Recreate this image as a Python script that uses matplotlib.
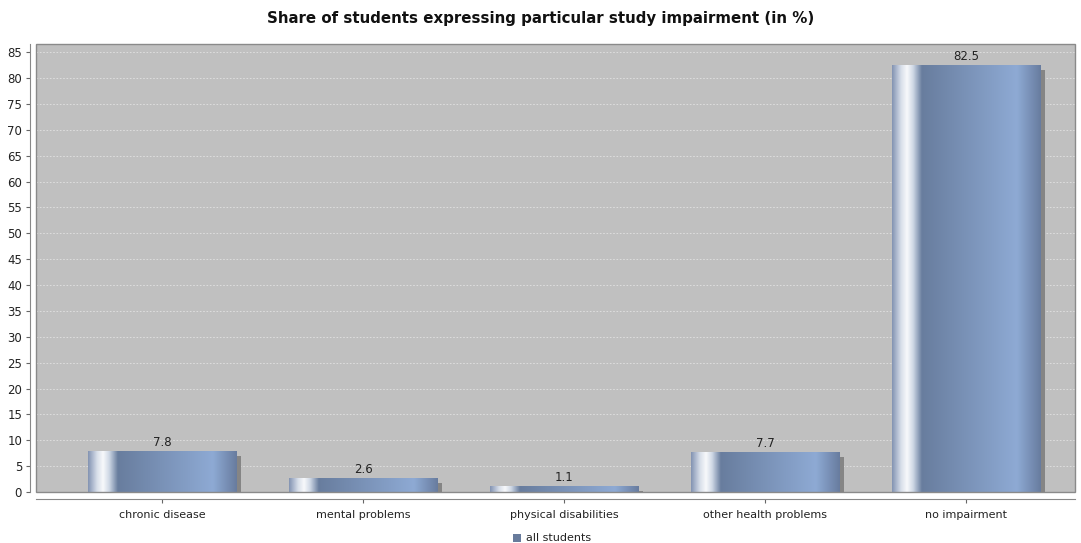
import numpy as np
import matplotlib
matplotlib.use("Agg")
import matplotlib.pyplot as plt
from matplotlib.colors import LinearSegmentedColormap
from matplotlib.patches import Rectangle
import matplotlib.transforms as mtransforms

# data
categories = ["chronic disease", "mental problems", "physical disabilities",
              "other health problems", "no impairment"]
shares = [7.8, 2.6, 1.1, 7.7, 82.5]
series_name = "all students"

plt.rcParams["font.family"] = ["DejaVu Sans"]

fig = plt.figure(figsize=(10.81, 5.43), dpi=100)
ax = fig.add_axes([36 / 1081, 51 / 543, (1075 - 36) / 1081, 448 / 543])
ax.set_facecolor("#c0c0c0")

x = np.arange(len(categories))
bar_w = 0.74

# horizontal gradient like the java renderer
bar_cmap = LinearSegmentedColormap.from_list("bar", [
    (0.0, "#8494b3"), (0.06, "#d8dfea"), (0.1, "#f8f9fb"), (0.14, "#d0d9e6"),
    (0.2, "#687d9e"), (0.84, "#8eaad4"), (1.0, "#687c9f")])
grad = np.linspace(0, 1, 256).reshape(1, -1)

# shadows
shadow_off = mtransforms.offset_copy(ax.transData, fig=fig, x=4.5, y=-4.5, units="dots")
ax.bar(x, shares, width=bar_w, color="#858585", transform=shadow_off, zorder=2,
       clip_on=True)
ax.add_patch(Rectangle((-1, -5), 7, 5, facecolor="#c0c0c0", edgecolor="none", zorder=2.5))

bars = ax.bar(x, shares, width=bar_w, color="none", edgecolor="none", zorder=3)
for b, v in zip(bars, shares):
    x0, y0 = b.get_x(), b.get_y()
    ax.imshow(grad, cmap=bar_cmap, aspect="auto", zorder=3,
              extent=(x0, x0 + b.get_width(), y0, y0 + b.get_height()))
    ax.text(b.get_x() + b.get_width() / 2, v + 0.5, f"{v}", ha="center",
            va="bottom", fontsize=8.5, color="#222222", zorder=4)

ax.set_xlim(-0.629, 4.54)
ax.set_ylim(0, 86.6)
ax.set_yticks(np.arange(0, 90, 5))
ax.set_xticks(x)
ax.set_xticklabels(categories)
ax.tick_params(axis="both", labelsize=8.5, colors="#222222", length=3,
               width=0.8, pad=3)
ax.tick_params(axis="x", labelsize=8, pad=5)
ax.tick_params(axis="both", color="#666666")

ax.yaxis.grid(True, color="#e2e2e2", linestyle=(0, (2, 2)), linewidth=0.6)
ax.set_axisbelow(True)

for s in ["top", "right"]:
    ax.spines[s].set_visible(False)
ax.spines["left"].set_position(("outward", 4))
ax.spines["bottom"].set_position(("outward", 5))
ax.spines["left"].set_color("#888888")
ax.spines["bottom"].set_color("#888888")
ax.add_patch(Rectangle((0, 0), 1, 1, transform=ax.transAxes, fill=False,
                       edgecolor="#8a8a8a", linewidth=1.0, zorder=5, clip_on=False))

fig.text(0.5, 1 - 18 / 543, "Share of students expressing particular study impairment (in %)",
         ha="center", va="center", fontsize=10.8, fontweight="bold", color="#111111")

# legend
fig.patches.append(Rectangle((513 / 1081, 1 - 542 / 543), 8 / 1081, 8 / 543,
                             transform=fig.transFigure, facecolor="#687b9c",
                             edgecolor="none"))
fig.text(526 / 1081, 1 - 538 / 543, series_name, ha="left", va="center",
         fontsize=8, color="#222222")

fig.savefig("out.png", dpi=100)
